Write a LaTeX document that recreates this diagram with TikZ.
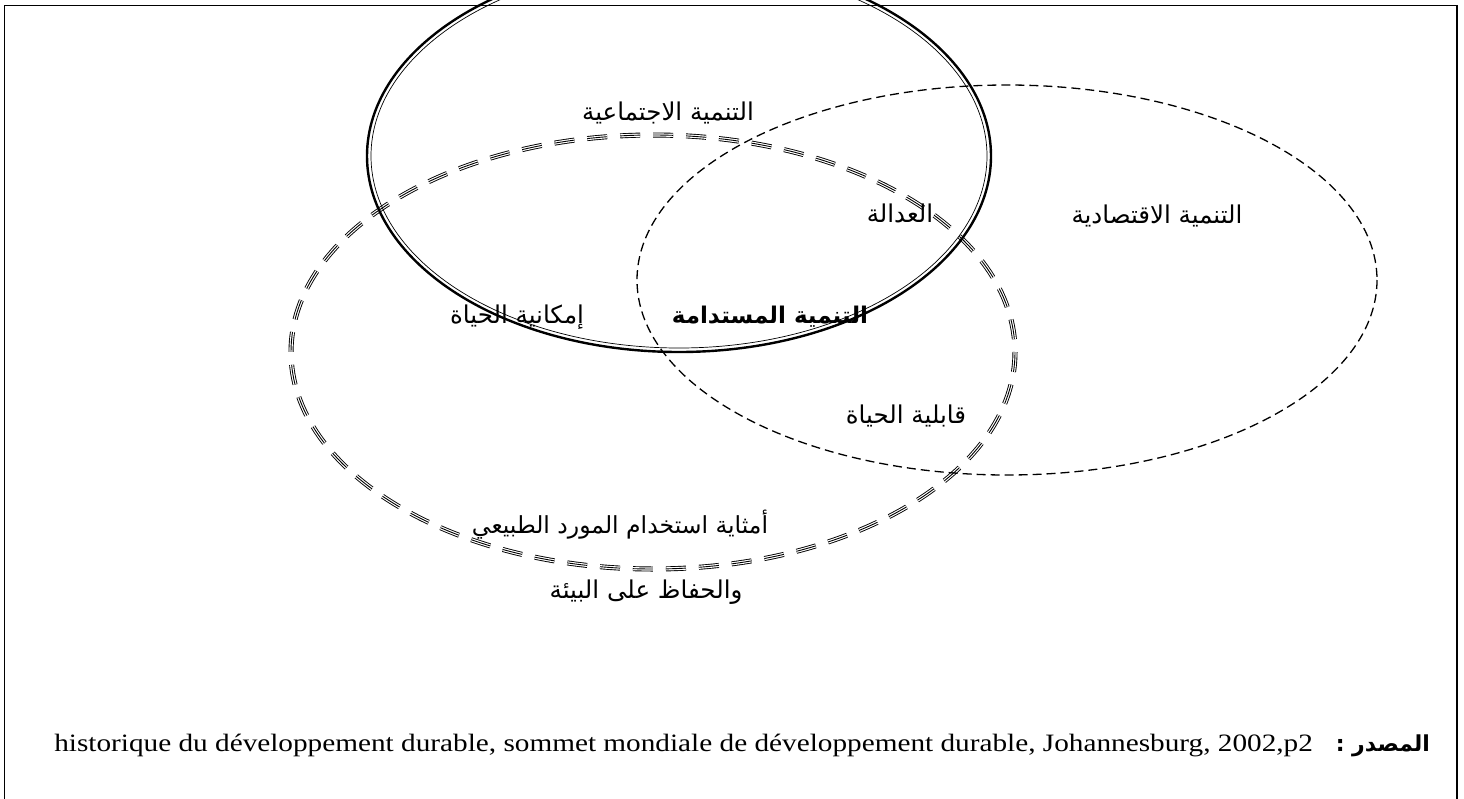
\documentclass[tikz,border=0pt]{standalone}
\usepackage{fontspec}
\setmainfont{Liberation Serif}
\newfontfamily\srcfont[FakeStretch=1.17]{Liberation Serif}
\newfontfamily\arabicfont[Script=Arabic]{DejaVu Sans}
\TeXXeTstate=1
\usetikzlibrary{positioning}

\begin{document}
\begin{tikzpicture}[x=1pt, y=-1pt,
    social/.style={line width=2.4pt},
    socialin/.style={line width=0.7pt},
    envline/.style={dash pattern=on 20pt off 13pt},
    econ/.style={line width=1.3pt, dash pattern=on 9pt off 5pt},
    lab/.style={font=\arabicfont\fontsize{24.5}{28}\selectfont, inner sep=0pt, anchor=base},
    boldlab/.style={lab, font=\arabicfont\bfseries\fontsize{23}{26}\selectfont}]
		\useasboundingbox (0,0) rectangle (1464,798);
		\clip (0,0) rectangle (1464,798);
		% draw the frame
		\draw[line width=1.6pt] (4.5,820) -- (4.5,5.5) -- (1457,5.5) -- (1457,820);
		% draw the ellipses
		\draw[envline, line width=5pt] (653,352) ellipse [x radius=362, y radius=217];
		\draw[envline, line width=3.2pt, white] (653,352) ellipse [x radius=362, y radius=217];
		\draw[envline, line width=0.9pt] (653,352) ellipse [x radius=362, y radius=217];
		\draw[econ] (1007,280) ellipse [x radius=370, y radius=195];
		\draw[social] (679,156) ellipse [x radius=312, y radius=196];
		\draw[socialin] (679,156) ellipse [x radius=308, y radius=192];
		% add labels
		\node[lab] (social) at (668,120) {\beginR التنمية الاجتماعية\endR};
		\node[lab] (justice) at (900,222) {\beginR العدالة\endR};
		\node[lab] (econ) at (1157,223) {\beginR التنمية الاقتصادية\endR};
		\node[boldlab] (sustain) at (770,323) {\beginR التنمية المستدامة\endR};
		\node[lab] (possible) at (517,323) {\beginR إمكانية الحياة\endR};
		\node[lab] (livable) at (906,423) {\beginR قابلية الحياة\endR};
		\node[lab, font=\arabicfont\fontsize{23.5}{27}\selectfont] (optimal) at (620,533) {\beginR أمثاية استخدام المورد الطبيعي\endR};
		\node[lab] (protect) at (646,598) {\beginR والحفاظ على البيئة\endR};
		% add the source
		\node[boldlab, font=\arabicfont\bfseries\fontsize{22}{24}\selectfont, anchor=base east] (srclab) at (1430,751) {\beginR المصدر :\endR};
		\node[inner sep=0pt, anchor=base east, font=\srcfont\fontsize{25}{28}\selectfont] (src) at (1313,751) {historique du développement durable, sommet mondiale de développement durable, Johannesburg, 2002,p2};
	\end{tikzpicture}
\end{document}
